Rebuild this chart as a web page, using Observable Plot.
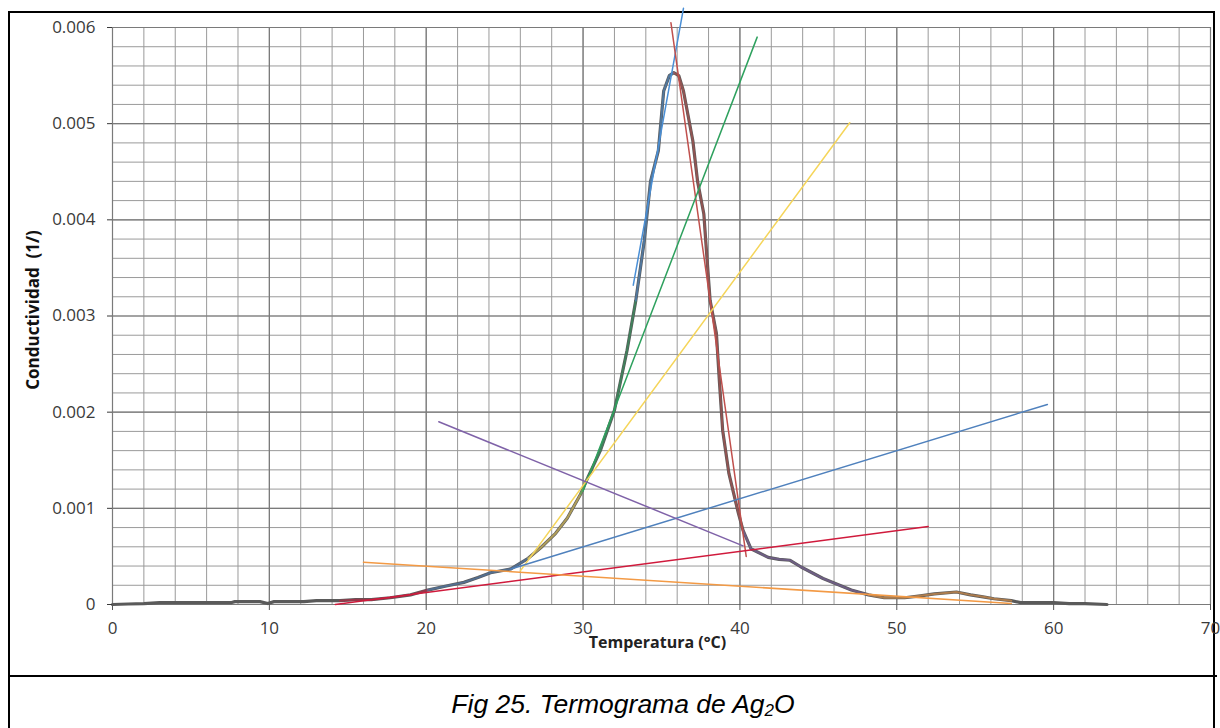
<!DOCTYPE html>
<html>
<head>
<meta charset="utf-8">
<script src="https://cdn.jsdelivr.net/npm/d3@7"></script>
<script src="https://cdn.jsdelivr.net/npm/@observablehq/plot@0.6"></script>
<style>
  html, body { margin: 0; padding: 0; background: #fff; width: 1220px; height: 728px; overflow: hidden; }
  #frame { position: absolute; left: 8px; top: 11px; width: 1207px; height: 730px; border: 2px solid #000; box-sizing: border-box; }
  #sep { position: absolute; left: 8px; top: 675px; width: 1209px; height: 2px; background: #000; }
  #chart { position: absolute; left: 0; top: 0; }
  #caption { position: absolute; left: 0; top: 689px; width: 1246px; text-align: center; font-family: "Liberation Sans", Arial, sans-serif; font-style: italic; font-size: 26.5px; color: #000; }
  #caption sub { font-size: 17px; vertical-align: -3px; }
</style>
</head>
<body>
<div id="frame"></div>
<div id="chart"></div>
<div id="sep"></div>
<div id="caption">Fig 25. Termograma de Ag<sub>2</sub>O</div>
<script>
// Main thermogram curve (Temperatura °C, Conductividad)
const temp = [0,1,2,3,4,5,6,7,7.6,7.8,8.5,9.4,9.9,10.3,11,12.2,13,14.5,15.5,16.5,17.7,19,20.1,21.2,22.4,23.3,24.1,25.4,26.5,27.3,28.25,29.0,29.85,30.3,31.1,32.0,32.8,33.36,33.9,34.3,34.8,35.14,35.5,35.78,36.1,36.4,37.0,37.3,37.7,37.9,38.1,38.5,38.7,38.9,39.3,39.9,40.2,40.7,41.8,42.5,43.2,43.9,45.3,47.1,48.2,49.2,50.5,51.5,52.4,53.8,54.7,55.5,56.2,57.3,57.9,59,60,61,62,63.4];
const cond = [0,0.000005,0.00001,0.00002,0.00002,0.00002,0.00002,0.00002,0.00002,0.00003,0.00003,0.00003,0.00001,0.00003,0.00003,0.00003,0.00004,0.00004,0.00005,0.00005,0.00007,0.0001,0.00015,0.00019,0.00023,0.00028,0.00033,0.00037,0.00048,0.00059,0.00074,0.0009,0.00115,0.00132,0.0016,0.00202,0.00264,0.00316,0.00378,0.0044,0.00472,0.00534,0.0055,0.00553,0.0055,0.00534,0.00482,0.0044,0.00406,0.0036,0.00316,0.00282,0.0023,0.00181,0.00136,0.00095,0.00077,0.00058,0.00049,0.00047,0.00046,0.00039,0.00027,0.00015,0.0001,0.00007,0.00007,0.00009,0.00011,0.00013,0.0001,0.00008,0.00006,0.00004,0.00002,0.00002,0.00002,0.00001,0.00001,0.00000];

// Tangent lines: name, start (x,y), end (x,y)
const tangentNames = ["azulPico","rojoPico","verde","amarillo","azul","morado","rojo","naranja"];
const tangentX1 = [33.2, 35.6, 30.0, 26.0, 25.4, 20.8, 14.2, 16.0];
const tangentY1 = [0.00332, 0.00605, 0.00118, 0.00035, 0.00037, 0.0019, 0.0, 0.00044];
const tangentX2 = [36.4, 40.4, 41.1, 47.0, 59.6, 40.2, 52.0, 57.3];
const tangentY2 = [0.0062, 0.00050, 0.0059, 0.00501, 0.00208, 0.00061, 0.00081, 0.00001];

// Colored fitted portions of the curve: name, x range
const segNames = ["rojo","azul","amarillo","verde","azulPico","rojoPico","morado","naranja"];
const segFrom = [14, 20, 26.5, 29.85, 33.36, 35.78, 40.2, 48.2];
const segTo   = [20.1, 26.5, 30.3, 33.36, 35.78, 40.2, 48.2, 57.3];

// Axis ticks
const xTicks = [0,10,20,30,40,50,60,70];
const yTicks = [0,0.001,0.002,0.003,0.004,0.005,0.006];
const xLabel = "Temperatura (°C)";
const yLabel = "Conductividad  (1/)";

const colors = {
  azulPico: "#4a8fd6", rojoPico: "#c0504d", verde: "#2ea15e", amarillo: "#f5d55a",
  azul: "#4f81bd", morado: "#7f62a8", rojo: "#d01a3c", naranja: "#f39a45"
};

const curve = temp.map((t, i) => ({t, c: cond[i]}));
const tangents = [];
tangentNames.forEach((n, i) => {
  tangents.push({name: n, t: tangentX1[i], c: tangentY1[i]});
  tangents.push({name: n, t: tangentX2[i], c: tangentY2[i]});
});
const segs = [];
segNames.forEach((n, i) => {
  curve.filter(d => d.t >= segFrom[i] && d.t <= segTo[i]).forEach(d => segs.push({name: n, t: d.t, c: d.c}));
});

const minorX = d3.range(0, 70.001, 2);
const minorY = d3.range(0, 0.0060001, 0.0002);

const plot = Plot.plot({
  width: 1220,
  height: 676,
  marginLeft: 112,
  marginRight: 10,
  marginTop: 27,
  marginBottom: 72,
  style: {fontFamily: "'Open Sans', Lato, sans-serif", fontSize: "17px", color: "#3a3a3a", background: "transparent"},
  x: {domain: [0, 70]},
  y: {domain: [0, 0.006]},
  marks: [
    Plot.ruleX(minorX, {stroke: "#9a9a9a", strokeWidth: 1}),
    Plot.ruleY(minorY, {stroke: "#9a9a9a", strokeWidth: 1}),
    Plot.ruleX(xTicks, {stroke: "#7a7a7a", strokeWidth: 1.2}),
    Plot.ruleY(yTicks, {stroke: "#7a7a7a", strokeWidth: 1.2}),
    Plot.line(curve, {x: "t", y: "c", stroke: "#5a5a5a", strokeWidth: 3.2, curve: "linear"}),
    Plot.line(segs, {x: "t", y: "c", z: "name", stroke: d => colors[d.name], strokeWidth: 2, strokeOpacity: 0.55}),
    Plot.line(tangents, {x: "t", y: "c", z: "name", stroke: d => colors[d.name], strokeWidth: 1.5}),
    Plot.axisX({ticks: xTicks, tickSize: 6, tickPadding: 11, label: null, stroke: "#555", fontSize: 17}),
    Plot.axisY({ticks: yTicks, tickSize: 5, tickPadding: 12, label: null, fontSize: 17, tickFormat: d => d === 0 ? "0" : d.toFixed(3)}),
    Plot.text([xLabel], {frameAnchor: "bottom", dy: 43, dx: -4, fontWeight: "bold", fontSize: 16, fill: "#222"}),
    Plot.text([yLabel], {frameAnchor: "left", textAnchor: "middle", dx: -79, dy: -6, rotate: -90, fontWeight: "bold", fontSize: 17, fill: "#111"})
  ]
});
document.getElementById("chart").appendChild(plot);
</script>
</body>
</html>
